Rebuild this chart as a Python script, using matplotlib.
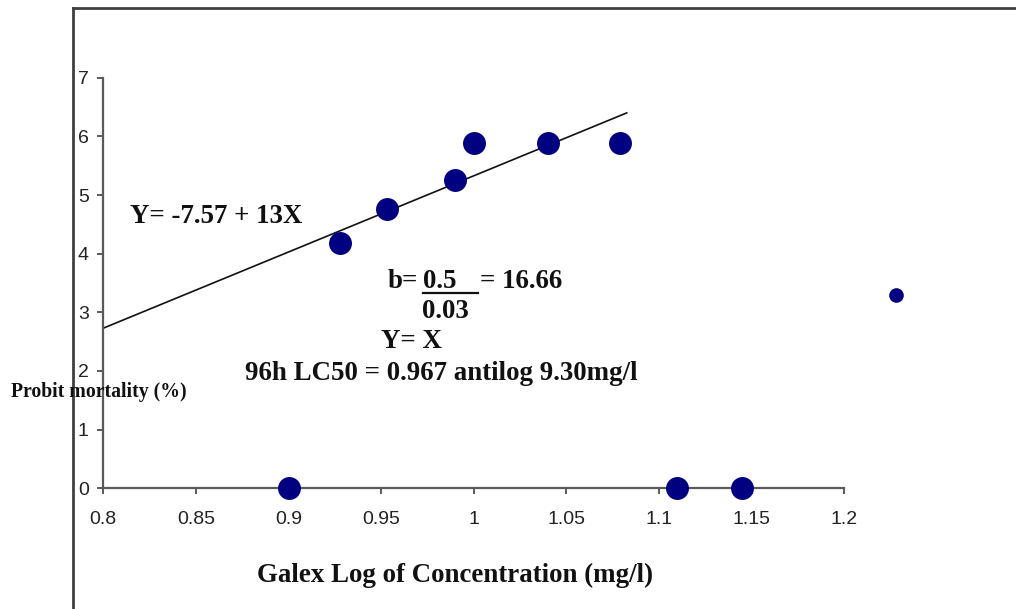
import matplotlib
matplotlib.use("Agg")
import matplotlib.pyplot as plt
from matplotlib.lines import Line2D

# ---- data ----
x_points = [0.9, 0.928, 0.953, 0.990, 1.0, 1.04, 1.079, 1.11, 1.145]
y_points = [0.0, 4.18, 4.77, 5.26, 5.88, 5.88, 5.88, 0.0, 0.0]
x_small = [1.228]
y_small = [3.29]
line_x = [0.8, 1.0826]
line_y = [2.73, 6.40]
x_ticks = [0.8, 0.85, 0.9, 0.95, 1.0, 1.05, 1.1, 1.15, 1.2]
x_tick_labels = ["0.8", "0.85", "0.9", "0.95", "1", "1.05", "1.1", "1.15", "1.2"]
y_ticks = [0, 1, 2, 3, 4, 5, 6, 7]

W, H = 1016, 609
fig = plt.figure(figsize=(W / 100, H / 100), dpi=100)

def fx(px):
    return px / W

def fy(py):
    return 1 - py / H

ax = fig.add_axes([fx(103.3), fy(488.3), fx(844.2) - fx(103.3), fy(77.7) - fy(488.3)])
ax.set_xlim(0.8, 1.2)
ax.set_ylim(0, 7)

spine_col = "#5a5a5a"
for s in ["top", "right"]:
    ax.spines[s].set_visible(False)
for s in ["left", "bottom"]:
    ax.spines[s].set_color(spine_col)
    ax.spines[s].set_linewidth(1.6)

ax.set_xticks(x_ticks)
ax.set_xticklabels(x_tick_labels)
ax.set_yticks(y_ticks)
ax.tick_params(axis="both", direction="out", length=4.5, width=1.4, color=spine_col,
               labelsize=14, labelcolor="#222222")
ax.tick_params(axis="x", pad=12)
ax.tick_params(axis="y", pad=6)
for lbl in ax.get_xticklabels() + ax.get_yticklabels():
    lbl.set_fontfamily(["Liberation Sans", "DejaVu Sans"])

ax.plot(line_x, line_y, color="#111111", lw=1.2, zorder=2)
ax.plot(x_points, y_points, "o", color="#000080", markersize=15.5, mec="#000080",
        clip_on=False, zorder=3)
ax.plot(x_small, y_small, "o", color="#000080", markersize=9.5, mec="#000080",
        clip_on=False, zorder=3)

# outer chart-area frame (left & top edges visible)
frame_col = "#404040"
fig.add_artist(Line2D([fx(72.7), fx(72.7)], [0, fy(8.3)], color=frame_col, lw=2.0,
                      transform=fig.transFigure))
fig.add_artist(Line2D([fx(72.7), 1.0], [fy(8.3), fy(8.3)], color=frame_col, lw=2.0,
                      transform=fig.transFigure))

serif = ["Liberation Serif", "DejaVu Serif"]
big = 19.4

def t(px, py, s, size=big, **kw):
    fig.text(fx(px), fy(py), s, fontsize=size, fontfamily=serif, fontweight="bold",
             va="baseline", ha="left", color="#111111", **kw)

t(130, 223, "Y= -7.57 + 13X")
t(388, 288, "b=")
t(423, 288, "0.5")
fig.add_artist(Line2D([fx(423), fx(478)], [fy(292.5), fy(292.5)], color="#111111", lw=1.6,
                      transform=fig.transFigure))
t(480, 288, "= 16.66")
t(422, 318, "0.03")
t(381, 348, "Y= X")
t(245, 380, "96h LC50 = 0.967 antilog 9.30mg/l")
t(11, 397, "Probit mortality (%)", size=14.2)
t(257, 582, "Galex Log of Concentration (mg/l)")

fig.savefig("out.png", dpi=100)
